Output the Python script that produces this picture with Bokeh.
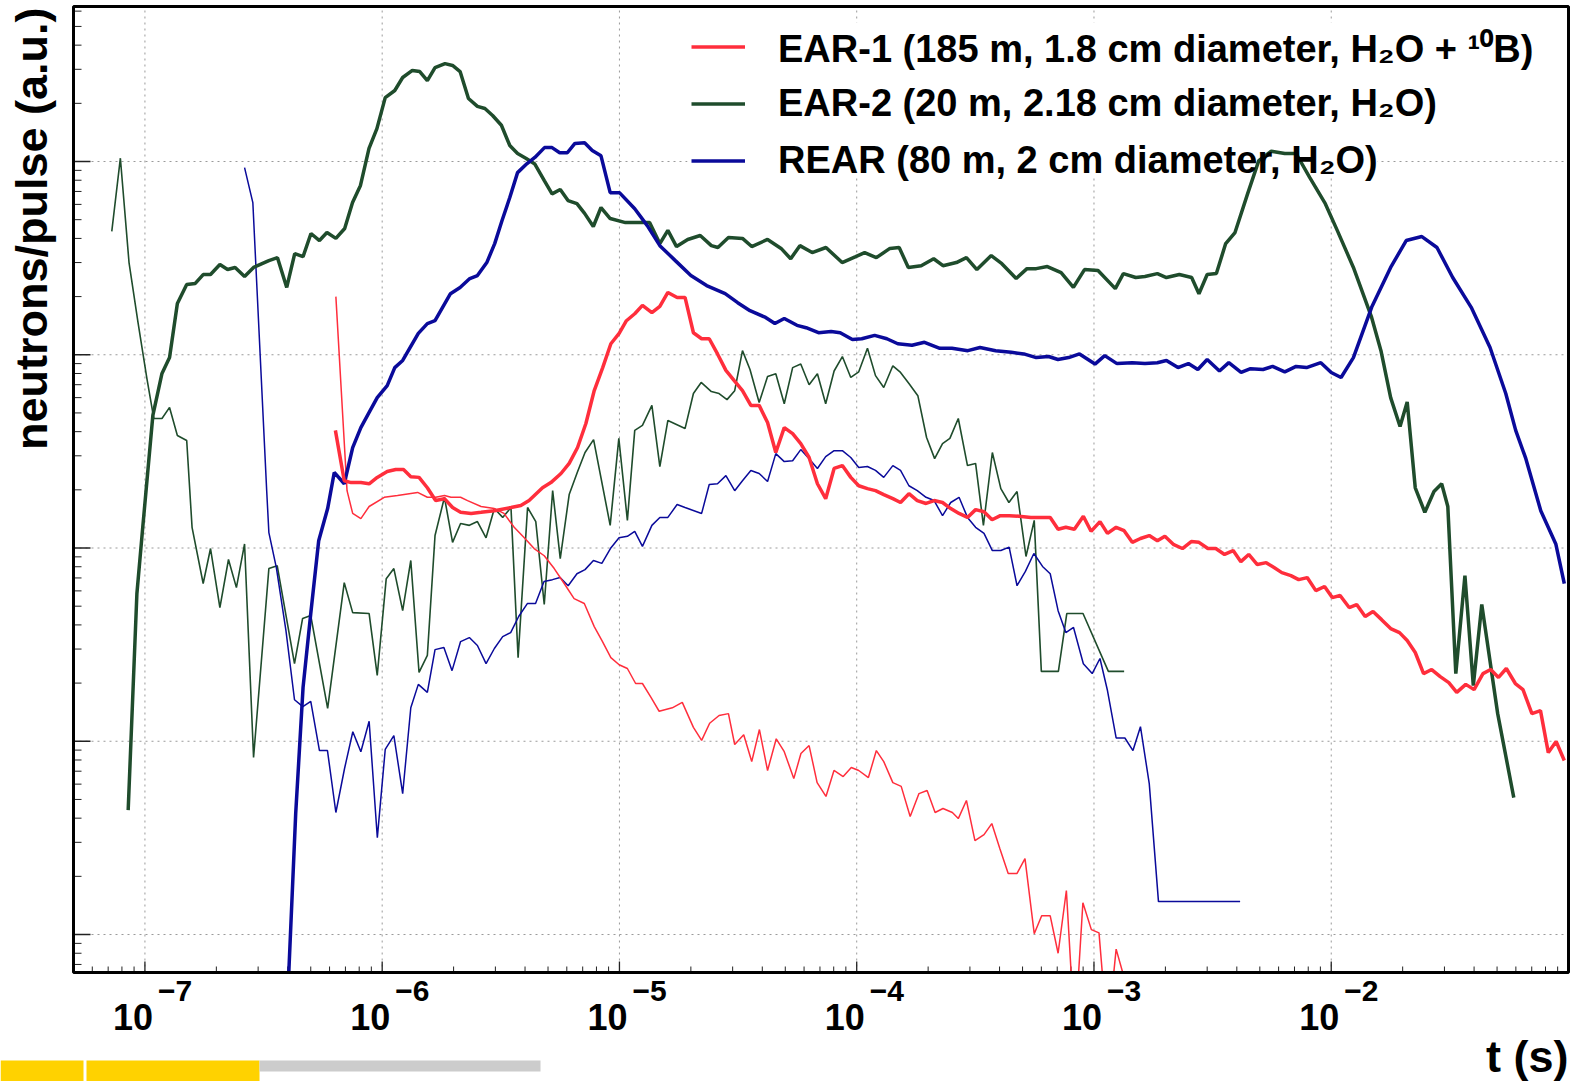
import math
from bokeh.plotting import figure
from bokeh.models import Legend, LegendItem, Label, BoxAnnotation
from bokeh.embed import file_html
from bokeh.resources import INLINE

FONT = "Liberation Sans"
RED = "#FF2E3C"
GREEN = "#1F4C2C"
BLUE = "#0A0A9A"

# ---------------- data (time in s, neutrons/pulse in a.u.) ----------------
ear2_thick_t = [
    8.5e-8, 9.25e-8, 9.78e-8, 1.08e-7, 1.18e-7, 1.27e-7, 1.37e-7, 1.50e-7, 1.63e-7, 1.76e-7,
    1.89e-7, 2.07e-7, 2.23e-7, 2.40e-7, 2.63e-7, 2.87e-7, 3.33e-7, 3.62e-7, 3.96e-7, 4.28e-7,
    4.64e-7, 5.01e-7, 5.44e-7, 5.85e-7, 6.38e-7, 6.95e-7, 7.5e-7, 8.1e-7, 8.8e-7, 9.5e-7,
    1.03e-6, 1.13e-6, 1.22e-6, 1.34e-6, 1.44e-6, 1.55e-6, 1.67e-6, 1.84e-6, 1.98e-6, 2.13e-6,
    2.31e-6, 2.52e-6, 2.71e-6, 2.92e-6, 3.18e-6, 3.45e-6, 3.72e-6, 4.03e-6, 4.40e-6, 4.83e-6,
    5.2e-6, 5.63e-6, 6.07e-6, 6.62e-6, 7.13e-6, 7.76e-6, 8.36e-6, 9.14e-6, 1.06e-5, 1.34e-5,
    1.48e-5, 1.60e-5, 1.74e-5, 1.94e-5, 2.19e-5, 2.44e-5, 2.60e-5, 2.88e-5, 3.30e-5, 3.61e-5,
    4.21e-5, 4.80e-5, 5.27e-5, 5.76e-5, 6.49e-5, 7.42e-5, 8.68e-5, 9.9e-5, 1.08e-4, 1.21e-4,
    1.38e-4, 1.51e-4, 1.65e-4, 1.87e-4, 2.11e-4, 2.31e-4, 2.63e-4, 2.90e-4, 3.21e-4, 3.69e-4,
    4.09e-4, 4.70e-4, 5.22e-4, 5.71e-4, 6.36e-4, 7.27e-4, 8.19e-4, 9.12e-4, 1.04e-3, 1.23e-3,
    1.33e-3, 1.50e-3, 1.64e-3, 1.85e-3, 2.02e-3, 2.29e-3, 2.58e-3, 2.77e-3, 3.0e-3, 3.28e-3,
    3.59e-3, 3.93e-3, 4.44e-3, 4.95e-3, 5.59e-3, 6.37e-3, 7.11e-3, 8.11e-3, 9.44e-3, 1.06e-2,
    1.24e-2, 1.48e-2, 1.62e-2, 1.78e-2, 1.95e-2, 2.09e-2, 2.26e-2, 2.48e-2, 2.71e-2, 2.92e-2,
    3.10e-2, 3.35e-2, 3.66e-2, 3.97e-2, 4.31e-2, 5.03e-2, 5.88e-2]
ear2_thick_n = [
    4.4, 58, 126, 485, 800, 967, 1840, 2310, 2340, 2600,
    2600, 2930, 2760, 2830, 2540, 2830, 3070, 3180, 2230, 3340,
    3220, 4240, 3900, 4290, 4000, 4500, 6130, 7520, 11700, 14800,
    21400, 23300, 27200, 29600, 29200, 26200, 30600, 32100, 31400, 29200,
    21200, 19300, 18800, 17300, 15400, 12100, 11000, 10400, 9700, 7950,
    6800, 7170, 6280, 6050, 5390, 4610, 5780, 5070, 4830, 4830,
    3760, 4400, 3630, 3950, 4140, 3670, 3590, 4040, 4000, 3630,
    3950, 3550, 3140, 3670, 3380, 3590, 3000, 3220, 3380, 3180,
    3550, 3590, 2830, 2890, 3140, 2890, 3000, 3180, 2760, 3260,
    2960, 2480, 2790, 2790, 2860, 2660, 2230, 2760, 2730, 2200,
    2630, 2510, 2540, 2630, 2510, 2600, 2510, 2070, 2600, 2630,
    3760, 4290, 6800, 10100, 11300, 11000, 11000, 8270, 6050, 4400,
    2830, 1560, 1050, 600, 425, 570, 205, 153, 196, 215,
    164, 22.4, 72, 19.4, 51, 13.9, 5.11]

ear2_thin_t = [
    7.25e-8, 7.88e-8, 8.57e-8, 9.35e-8, 1.02e-7, 1.09e-7, 1.18e-7, 1.27e-7, 1.37e-7, 1.50e-7,
    1.58e-7, 1.76e-7, 1.89e-7, 2.07e-7, 2.25e-7, 2.43e-7, 2.63e-7, 2.87e-7, 3.33e-7, 3.61e-7,
    4.27e-7, 4.62e-7, 5.0e-7, 5.89e-7, 6.92e-7, 7.51e-7, 8.81e-7, 9.53e-7, 1.04e-6, 1.12e-6,
    1.22e-6, 1.32e-6, 1.43e-6, 1.55e-6, 1.67e-6, 1.83e-6, 1.98e-6, 2.14e-6, 2.33e-6, 2.52e-6,
    2.74e-6, 2.97e-6, 3.22e-6, 3.49e-6, 3.74e-6, 4.10e-6, 4.44e-6, 4.82e-6, 5.23e-6, 5.63e-6,
    6.14e-6, 6.64e-6, 7.16e-6, 7.78e-6, 9.14e-6, 9.94e-6, 1.08e-5, 1.16e-5, 1.25e-5, 1.37e-5,
    1.48e-5, 1.60e-5, 1.89e-5, 2.05e-5, 2.21e-5, 2.44e-5, 2.63e-5, 2.84e-5, 3.06e-5, 3.30e-5,
    3.55e-5, 3.88e-5, 4.21e-5, 4.56e-5, 4.95e-5, 5.37e-5, 5.81e-5, 6.30e-5, 6.83e-5, 7.4e-5,
    8.03e-5, 8.7e-5, 9.44e-5, 1.02e-4, 1.11e-4, 1.20e-4, 1.30e-4, 1.42e-4, 1.53e-4, 1.66e-4,
    1.81e-4, 1.97e-4, 2.13e-4, 2.30e-4, 2.47e-4, 2.68e-4, 2.93e-4, 3.17e-4, 3.42e-4, 3.73e-4,
    4.05e-4, 4.38e-4, 4.74e-4, 5.17e-4, 5.6e-4, 6.0e-4, 7.08e-4, 7.68e-4, 8.99e-4, 1.15e-3,
    1.34e-3]
ear2_thin_n = [
    4350, 10400, 3000, 1470, 750, 468, 468, 534, 382, 360,
    128, 65.5, 99.4, 49.2, 87.2, 62.4, 105, 8.24, 78.3, 81,
    25.2, 43.2, 44.7, 14.8, 66.2, 46.3, 45.8, 21.9, 69.4, 78.3,
    47.4, 86.2, 22.7, 27.8, 116, 183, 107, 134, 131, 137,
    113, 160, 144, 162, 27.1, 162, 137, 51, 198, 88.1,
    189, 246, 312, 364, 131, 369, 139, 406, 431, 547,
    264, 457, 415, 630, 719, 645, 630, 586, 652, 1050,
    839, 566, 771, 798, 558, 858, 895, 700, 798, 558,
    824, 979, 763, 816, 1080, 780, 677, 877, 810, 710,
    614, 373, 290, 347, 369, 468, 267, 274, 131, 312,
    203, 172, 196, 90.4, 139, 23.0, 23.0, 45.8, 45.8, 23.0,
    23.0]

rear_thick_t = [
    3.97e-7, 4.04e-7, 4.32e-7, 4.64e-7, 5.0e-7, 5.4e-7, 5.89e-7, 6.28e-7, 6.92e-7, 7.51e-7,
    8.13e-7, 8.81e-7, 9.53e-7, 1.05e-6, 1.13e-6, 1.22e-6, 1.42e-6, 1.55e-6, 1.67e-6, 1.94e-6,
    2.13e-6, 2.34e-6, 2.52e-6, 2.76e-6, 2.98e-6, 3.2e-6, 3.45e-6, 3.72e-6, 4.08e-6, 4.4e-6,
    4.83e-6, 5.2e-6, 5.6e-6, 6.03e-6, 6.49e-6, 7.13e-6, 7.68e-6, 8.36e-6, 9.14e-6, 1.0e-5,
    1.16e-5, 1.31e-5, 1.48e-5, 1.72e-5, 2.0e-5, 2.33e-5, 2.79e-5, 3.15e-5, 3.55e-5, 4.13e-5,
    4.52e-5, 4.95e-5, 5.6e-5, 6.12e-5, 6.9e-5, 7.8e-5, 8.52e-5, 9.59e-5, 1.05e-4, 1.19e-4,
    1.34e-4, 1.49e-4, 1.71e-4, 1.93e-4, 2.24e-4, 2.52e-4, 2.94e-4, 3.31e-4, 3.85e-4, 4.48e-4,
    5.06e-4, 5.71e-4, 6.44e-4, 7.05e-4, 7.82e-4, 8.69e-4, 1.01e-3, 1.11e-3, 1.25e-3, 1.45e-3,
    1.64e-3, 1.85e-3, 2.02e-3, 2.26e-3, 2.5e-3, 2.74e-3, 3.0e-3, 3.38e-3, 3.7e-3, 4.17e-3,
    4.57e-3, 5.16e-3, 5.66e-3, 6.37e-3, 7.11e-3, 7.87e-3, 9.04e-3, 1.0e-2, 1.10e-2, 1.24e-2,
    1.48e-2, 1.78e-2, 2.07e-2, 2.41e-2, 2.79e-2, 3.25e-2, 3.89e-2, 4.67e-2, 5.44e-2, 5.99e-2,
    6.61e-2, 7.64e-2, 8.84e-2, 9.6e-2]
rear_thick_n = [
    0.38, 0.636, 4.22, 19.0, 45.8, 109, 160, 246, 215, 331,
    420, 503, 600, 692, 858, 934, 1290, 1450, 1500, 2070,
    2230, 2480, 2570, 3000, 3760, 4950, 6510, 8760, 9760, 10500,
    11800, 11800, 11100, 11100, 12400, 12500, 11400, 10700, 6900, 6900,
    5700, 4660, 3670, 3070, 2570, 2280, 2070, 1860, 1690, 1560,
    1450, 1540, 1420, 1380, 1300, 1320, 1300, 1200, 1210, 1260,
    1210, 1140, 1120, 1160, 1080, 1080, 1050, 1090, 1050, 1030,
    1010, 967, 979, 945, 967, 1010, 895, 990, 900, 910,
    900, 910, 934, 858, 900, 839, 945, 824, 910, 810,
    847, 839, 870, 816, 870, 858, 910, 810, 763, 967,
    1760, 2830, 3900, 4090, 3590, 2510, 1760, 1090, 630, 406,
    290, 156, 105, 65.5]

rear_thin_t = [
    2.63e-7, 2.85e-7, 3.26e-7, 3.33e-7, 3.58e-7, 3.93e-7, 4.27e-7, 4.63e-7, 5.0e-7, 5.44e-7,
    5.88e-7, 6.38e-7, 6.94e-7, 7.52e-7, 8.13e-7, 8.81e-7, 9.54e-7, 1.03e-6, 1.12e-6, 1.22e-6,
    1.32e-6, 1.42e-6, 1.55e-6, 1.67e-6, 1.82e-6, 1.97e-6, 2.14e-6, 2.33e-6, 2.52e-6, 2.74e-6,
    2.97e-6, 3.22e-6, 3.48e-6, 3.76e-6, 4.09e-6, 4.43e-6, 4.81e-6, 5.22e-6, 5.62e-6, 6.08e-6,
    6.62e-6, 7.16e-6, 7.77e-6, 8.43e-6, 9.16e-6, 9.96e-6, 1.08e-5, 1.16e-5, 1.25e-5, 1.37e-5,
    1.48e-5, 1.60e-5, 1.75e-5, 1.89e-5, 2.22e-5, 2.39e-5, 2.59e-5, 2.81e-5, 3.06e-5, 3.30e-5,
    3.58e-5, 3.88e-5, 4.21e-5, 4.56e-5, 4.95e-5, 5.37e-5, 5.81e-5, 6.30e-5, 6.83e-5, 7.40e-5,
    8.03e-5, 8.70e-5, 9.44e-5, 1.02e-4, 1.11e-4, 1.20e-4, 1.30e-4, 1.42e-4, 1.53e-4, 1.66e-4,
    1.80e-4, 1.96e-4, 2.12e-4, 2.30e-4, 2.49e-4, 2.70e-4, 2.93e-4, 3.17e-4, 3.44e-4, 3.73e-4,
    4.05e-4, 4.39e-4, 4.74e-4, 5.14e-4, 5.58e-4, 6.07e-4, 6.54e-4, 7.06e-4, 7.61e-4, 8.2e-4,
    9.02e-4, 9.83e-4, 1.06e-3, 1.14e-3, 1.24e-3, 1.35e-3, 1.46e-3, 1.57e-3, 1.71e-3, 1.87e-3,
    4.13e-3]
rear_thin_n = [
    9300, 6130, 198, 120, 79.2, 37.4, 16.4, 15.1, 16.1, 8.95,
    8.95, 4.28, 7.23, 11.2, 8.83, 12.7, 3.17, 9.07, 10.7, 5.36,
    14.9, 19.7, 17.9, 29.8, 30.6, 23.2, 32.8, 34.4, 31.3, 25.2,
    30.2, 34.8, 36.5, 44.2, 51.6, 51.6, 67.1, 68.6, 70.3, 63.8,
    73.6, 77.3, 86.2, 83.3, 99.4, 113, 115, 122, 102, 131,
    144, 144, 168, 162, 151, 213, 215, 237, 198, 223,
    252, 243, 221, 308, 280, 283, 323, 290, 258, 297,
    319, 319, 294, 261, 264, 252, 232, 267, 252, 210,
    198, 183, 176, 147, 172, 183, 144, 128, 119, 97,
    97, 101, 63.8, 75.7, 93.7, 80.3, 73.6, 47.4, 36.5, 38.8,
    25.2, 22.4, 26.8, 18.3, 10.4, 10.4, 8.95, 11.9, 6.04, 1.48,
    1.48]

ear1_thick_t = [
    6.35e-7, 6.92e-7, 7.4e-7, 8.13e-7, 8.81e-7, 9.53e-7, 1.05e-6, 1.14e-6, 1.23e-6, 1.32e-6,
    1.43e-6, 1.55e-6, 1.68e-6, 1.83e-6, 1.98e-6, 2.14e-6, 2.37e-6, 2.61e-6, 2.97e-6, 3.49e-6,
    3.84e-6, 4.16e-6, 4.74e-6, 5.14e-6, 5.67e-6, 6.14e-6, 6.66e-6, 7.22e-6, 7.83e-6, 8.5e-6,
    9.2e-6, 9.97e-6, 1.07e-5, 1.16e-5, 1.25e-5, 1.37e-5, 1.48e-5, 1.60e-5, 1.75e-5, 1.89e-5,
    2.05e-5, 2.22e-5, 2.39e-5, 2.59e-5, 2.81e-5, 3.04e-5, 3.30e-5, 3.58e-5, 3.88e-5, 4.21e-5,
    4.56e-5, 4.95e-5, 5.37e-5, 5.81e-5, 6.30e-5, 6.83e-5, 7.40e-5, 8.03e-5, 8.70e-5, 9.44e-5,
    1.02e-4, 1.11e-4, 1.20e-4, 1.30e-4, 1.42e-4, 1.53e-4, 1.66e-4, 1.80e-4, 1.96e-4, 2.12e-4,
    2.30e-4, 2.49e-4, 2.70e-4, 2.93e-4, 3.17e-4, 3.44e-4, 3.72e-4, 4.03e-4, 4.4e-4, 4.83e-4,
    5.42e-4, 6.0e-4, 6.54e-4, 7.06e-4, 7.61e-4, 8.27e-4, 9.02e-4, 9.72e-4, 1.06e-3, 1.14e-3,
    1.24e-3, 1.34e-3, 1.45e-3, 1.57e-3, 1.71e-3, 1.85e-3, 1.99e-3, 2.17e-3, 2.36e-3, 2.57e-3,
    2.77e-3, 3.02e-3, 3.26e-3, 3.55e-3, 3.86e-3, 4.16e-3, 4.49e-3, 4.88e-3, 5.32e-3, 5.74e-3,
    6.19e-3, 6.76e-3, 7.29e-3, 7.92e-3, 8.61e-3, 9.37e-3, 1.01e-2, 1.09e-2, 1.19e-2, 1.28e-2,
    1.39e-2, 1.50e-2, 1.63e-2, 1.78e-2, 1.94e-2, 2.09e-2, 2.26e-2, 2.45e-2, 2.65e-2, 2.88e-2,
    3.13e-2, 3.38e-2, 3.69e-2, 4.0e-2, 4.36e-2, 4.70e-2, 5.07e-2, 5.47e-2, 5.97e-2, 6.43e-2,
    7.01e-2, 7.62e-2, 8.22e-2, 8.87e-2, 9.6e-2]
ear1_thick_n = [
    406, 223, 218, 218, 215, 232, 249, 255, 255, 234,
    232, 205, 176, 180, 162, 153, 151, 153, 156, 162,
    166, 176, 205, 218, 243, 274, 331, 441, 653, 858,
    1140, 1290, 1500, 1630, 1800, 1650, 1780, 2100, 1980, 1980,
    1300, 1210, 1210, 1010, 830, 737, 653, 547, 547, 446,
    312, 420, 391, 347, 294, 215, 180, 258, 267, 232,
    210, 203, 198, 189, 180, 172, 191, 176, 170, 176,
    172, 160, 151, 144, 158, 154, 140, 147, 147, 146,
    144, 144, 144, 125, 128, 125, 146, 122, 137, 119,
    128, 123, 107, 112, 116, 109, 115, 104, 99.4, 108,
    107, 99.4, 99.4, 92.6, 97, 85, 92.6, 82.1, 84, 79.2,
    74.6, 72, 68.6, 70.3, 60.2, 63.2, 55.4, 56.8, 49.2, 51,
    44.2, 46.9, 42.6, 38.3, 36.5, 33.2, 28.8, 22.4, 23.5, 21.6,
    20.1, 17.9, 19.7, 18.5, 22.4, 23.5, 21.4, 23.8, 19.9, 18.5,
    13.9, 14.4, 8.74, 9.97, 7.95]

ear1_thin_t = [
    6.38e-7, 7.11e-7, 7.51e-7, 8.13e-7, 8.81e-7, 1.02e-6, 1.16e-6, 1.41e-6, 1.55e-6, 1.68e-6,
    1.83e-6, 1.95e-6, 2.14e-6, 2.29e-6, 2.61e-6, 2.97e-6, 3.26e-6, 3.60e-6, 3.97e-6, 4.37e-6,
    4.82e-6, 5.31e-6, 5.85e-6, 6.44e-6, 7.11e-6, 7.83e-6, 8.44e-6, 9.2e-6, 9.97e-6, 1.08e-5,
    1.17e-5, 1.25e-5, 1.36e-5, 1.47e-5, 1.67e-5, 1.84e-5, 2.05e-5, 2.22e-5, 2.40e-5, 2.63e-5,
    2.88e-5, 3.06e-5, 3.34e-5, 3.61e-5, 3.89e-5, 4.21e-5, 4.58e-5, 4.95e-5, 5.43e-5, 5.82e-5,
    6.30e-5, 6.81e-5, 7.42e-5, 8.02e-5, 8.77e-5, 9.49e-5, 1.02e-4, 1.12e-4, 1.21e-4, 1.30e-4,
    1.42e-4, 1.54e-4, 1.68e-4, 1.83e-4, 1.98e-4, 2.14e-4, 2.31e-4, 2.53e-4, 2.68e-4, 2.90e-4,
    3.15e-4, 3.44e-4, 3.71e-4, 4.01e-4, 4.35e-4, 4.74e-4, 5.12e-4, 5.6e-4, 6.02e-4, 6.54e-4,
    7.06e-4, 7.65e-4, 8.3e-4, 8.98e-4, 9.75e-4, 1.05e-3, 1.14e-3, 1.24e-3, 1.39e-3]
ear1_thin_n = [
    2000, 198, 151, 142, 164, 183, 187, 194, 183, 183,
    187, 183, 183, 176, 164, 160, 151, 128, 113, 99.4,
    91.2, 78.3, 65.5, 54.7, 51.6, 39.2, 33.2, 27.1, 24.9, 23.8,
    19.9, 19.9, 16.8, 14.3, 14.9, 15.9, 11.8, 10.1, 12.4, 13.6,
    13.9, 9.62, 10.8, 7.85, 11.5, 7.06, 10.3, 8.83, 6.41, 8.64,
    9.5, 6.11, 5.18, 7.06, 6.57, 7.32, 7.06, 6.49, 8.95, 7.85,
    6.11, 5.84, 4.08, 5.36, 5.56, 4.28, 4.49, 4.28, 3.98, 4.94,
    3.06, 3.29, 3.75, 2.79, 2.07, 2.07, 2.47, 1.01, 1.25, 1.25,
    0.80, 1.69, 0.3, 1.46, 1.06, 1.02, 0.3, 0.84, 0.51]

legend_labels = [
    "EAR-1 (185 m, 1.8 cm diameter, H\u2082O + \u00b9\u2070B)",
    "EAR-2 (20 m, 2.18 cm diameter, H\u2082O)",
    "REAR (80 m, 2 cm diameter, H\u2082O)",
]
x_title = "t (s)"
y_title = "neutrons/pulse (a.u.)"

x_decades = [1e-7, 1e-6, 1e-5, 1e-4, 1e-3, 1e-2]
x_tick_base = "10"
x_exponents = ["\u22127", "\u22126", "\u22125", "\u22124", "\u22123", "\u22122"]
y_decades = [1, 10, 100, 1000, 10000]
X_VIS = (5e-8, 0.1)        # visible axis range of the plot box
Y_VIS = (0.636, 63400)

# ---------------- layout geometry (canvas pixels) ----------------
W, H = 1575, 1081
BOX_L, BOX_R, BOX_T, BOX_B = 73, 1568, 6, 972
PPD_X = (BOX_R - BOX_L) / (math.log10(X_VIS[1]) - math.log10(X_VIS[0]))
PPD_Y = (BOX_B - BOX_T) / (math.log10(Y_VIS[1]) - math.log10(Y_VIS[0]))
x_start = 10 ** (math.log10(X_VIS[0]) - BOX_L / PPD_X)
x_end = 10 ** (math.log10(X_VIS[1]) + (W - BOX_R) / PPD_X)
y_start = 10 ** (math.log10(Y_VIS[0]) - (H - BOX_B) / PPD_Y)
y_end = 10 ** (math.log10(Y_VIS[1]) + BOX_T / PPD_Y)
BASE_SHIFT = 0.37   # label anchor correction, in em


def up(py):
    """canvas y (from top) -> screen units of annotations (from bottom)"""
    return H - py


p = figure(width=W, height=H, x_axis_type="log", y_axis_type="log",
           x_range=(x_start, x_end), y_range=(y_start, y_end),
           x_axis_location=None, y_axis_location=None,
           output_backend="svg", toolbar_location=None, min_border=0)
p.background_fill_color = "white"
p.border_fill_color = "white"
p.outline_line_color = None
p.grid.visible = False

# ---------------- grid lines, ticks ----------------
x_minor = [m * d for d in [1e-8, 1e-7, 1e-6, 1e-5, 1e-4, 1e-3, 1e-2]
           for m in range(2, 10) if X_VIS[0] < m * d < X_VIS[1]]
y_minor = [m * d for d in [0.1, 1, 10, 100, 1000, 10000]
           for m in range(2, 10) if Y_VIS[0] < m * d < Y_VIS[1]]

GRID = dict(line_color="#9a9a9a", line_dash="2 4", line_width=1, level="image")
p.segment(x0=x_decades, y0=[Y_VIS[0]] * len(x_decades),
          x1=x_decades, y1=[Y_VIS[1]] * len(x_decades), **GRID)
p.segment(x0=[X_VIS[0]] * len(y_decades), y0=y_decades,
          x1=[X_VIS[1]] * len(y_decades), y1=y_decades, **GRID)


def xtick(vals, length, width):
    f = 10 ** (length / PPD_Y)
    p.segment(x0=vals, y0=[Y_VIS[0]] * len(vals), x1=vals,
              y1=[Y_VIS[0] * f] * len(vals), line_color="#222222",
              line_width=width)


def ytick(vals, length, width):
    f = 10 ** (length / PPD_X)
    p.segment(x0=[X_VIS[0]] * len(vals), y0=vals, x1=[X_VIS[0] * f] * len(vals),
              y1=vals, line_color="#222222", line_width=width)


xtick(x_decades, 11, 1.3)
xtick(x_minor, 6, 1)
ytick(y_decades, 17, 1.3)
ytick(y_minor, 8, 1)

# legend background (drawn under the curves, over the grid)
p.add_layout(BoxAnnotation(left=687, right=1377, top=up(22), bottom=up(177),
                           left_units="screen", right_units="screen",
                           top_units="screen", bottom_units="screen",
                           fill_color="white", fill_alpha=1, line_alpha=0,
                           level="underlay"))

# ---------------- series ----------------
p.line(ear2_thin_t, ear2_thin_n, line_color=GREEN, line_width=1.6)
p.line(rear_thin_t, rear_thin_n, line_color=BLUE, line_width=1.5)
p.line(ear1_thin_t, ear1_thin_n, line_color=RED, line_width=1.5)
r_ear2 = p.line(ear2_thick_t, ear2_thick_n, line_color=GREEN, line_width=3.5)
r_rear = p.line(rear_thick_t, rear_thick_n, line_color=BLUE, line_width=3.5)
r_ear1 = p.line(ear1_thick_t, ear1_thick_n, line_color=RED, line_width=3.5)

# white mask below the plot box (hides curve parts under the lower axis limit)
p.add_layout(BoxAnnotation(left=x_start, right=x_end, bottom=y_start, top=Y_VIS[0],
                           fill_color="white", fill_alpha=1, line_alpha=0))
# plot box frame
p.add_layout(BoxAnnotation(left=X_VIS[0], right=X_VIS[1], bottom=Y_VIS[0], top=Y_VIS[1],
                           fill_color=None, fill_alpha=0, line_color="black",
                           line_width=3, line_alpha=1))

legend = Legend(
    items=[LegendItem(label=legend_labels[0], renderers=[r_ear1]),
           LegendItem(label=legend_labels[1], renderers=[r_ear2]),
           LegendItem(label=legend_labels[2], renderers=[r_rear])],
    location=(691, up(189)),
    label_text_font=FONT, label_text_font_style="bold",
    label_text_font_size="38px", label_text_color="black",
    glyph_width=54, glyph_height=57, label_height=57, label_standoff=33,
    spacing=0, padding=0, margin=0,
    border_line_alpha=0, background_fill_alpha=0)
p.add_layout(legend)

# ---------------- texts ----------------
BASE_PX, EXP_PX, TITLE_PX = 36, 30, 45
for d, e in zip(x_decades, x_exponents):
    p.add_layout(Label(x=d, y=up(1030 - BASE_SHIFT * BASE_PX), x_units="data",
                       y_units="screen", text=x_tick_base, x_offset=8,
                       text_align="right", text_baseline="alphabetic",
                       text_font=FONT, text_font_style="bold",
                       text_font_size=f"{BASE_PX}px", text_color="black"))
    p.add_layout(Label(x=d, y=up(1002 - BASE_SHIFT * EXP_PX), x_units="data",
                       y_units="screen", text=e, x_offset=13,
                       text_align="left", text_baseline="alphabetic",
                       text_font=FONT, text_font_style="bold",
                       text_font_size=f"{EXP_PX}px", text_color="black"))

p.add_layout(Label(x=1568, y=up(1073 - BASE_SHIFT * TITLE_PX), x_units="screen",
                   y_units="screen", text=x_title, text_align="right",
                   text_baseline="alphabetic", text_font=FONT,
                   text_font_style="bold", text_font_size=f"{TITLE_PX}px",
                   text_color="black"))
p.add_layout(Label(x=48 - BASE_SHIFT * TITLE_PX, y=up(7), x_units="screen",
                   y_units="screen", text=y_title, angle=math.pi / 2,
                   text_align="right", text_baseline="alphabetic",
                   text_font=FONT, text_font_style="bold",
                   text_font_size=f"{TITLE_PX}px", text_color="black"))

# decorative slide bar at the bottom left
for left, right, top, bottom, col in [(0, 83, 1060, 1081, "#FFD200"),
                                      (86, 259, 1060, 1081, "#FFD200"),
                                      (259, 540, 1060, 1071, "#CCCCCC")]:
    p.add_layout(BoxAnnotation(left=left, right=right, top=up(top), bottom=up(bottom),
                               left_units="screen", right_units="screen",
                               top_units="screen", bottom_units="screen",
                               fill_color=col, fill_alpha=1, line_alpha=0))

open("out.html", "w").write(file_html(p, INLINE))
